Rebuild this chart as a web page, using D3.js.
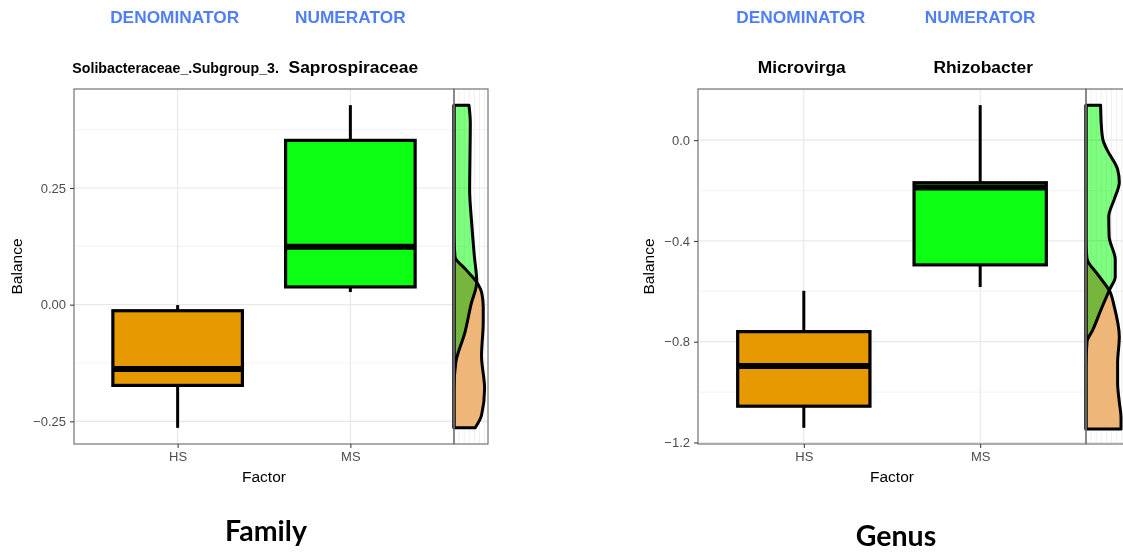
<!DOCTYPE html>
<html>
<head>
<meta charset="utf-8">
<script src="https://cdn.jsdelivr.net/npm/d3@7"></script>
<style>
  body { margin: 0; background: #fff; }
  svg { display: block; font-family: "Liberation Sans", Arial, sans-serif; }
</style>
</head>
<body>
<svg class="chart" width="1123" height="553"></svg>
<script>
const factors = ['HS', 'MS'];

// box stats per group: [min, q1, median, q3, max]
const familyHS = [-0.264, -0.173, -0.138, -0.013, -0.001];
const familyMS = [0.027, 0.038, 0.124, 0.352, 0.4275];
const genusHS = [-1.142, -1.056, -0.896, -0.760, -0.598];
const genusMS = [-0.583, -0.495, -0.188, -0.169, 0.139];

// side density profiles: [balance, density]
const familyDensityHS = [[0.4275, 0], [0.15, 0], [0.103, 0.03], [0.075, 0.35], [0.049, 0.66], [0.024, 0.82],
  [-0.005, 0.86], [-0.037, 0.86], [-0.11, 0.81], [-0.18, 0.9], [-0.237, 0.81], [-0.264, 0.62]];
const familyDensityMS = [[0.4275, 0.44], [0.39, 0.48], [0.317, 0.47], [0.246, 0.46], [0.175, 0.52], [0.103, 0.6],
  [0.049, 0.67], [0.0, 0.5], [-0.06, 0.32], [-0.125, 0.05], [-0.18, 0], [-0.264, 0]];
const genusDensityHS = [[0.139, 0], [-0.4, 0], [-0.47, 0.03], [-0.534, 0.35], [-0.6, 0.7], [-0.66, 0.83],
  [-0.78, 0.98], [-0.885, 0.93], [-0.964, 0.93], [-1.04, 0.98], [-1.1, 1.03], [-1.147, 1.03]];
const genusDensityMS = [[0.139, 0.43], [0.06, 0.45], [0.0, 0.5], [-0.036, 0.61], [-0.116, 0.93], [-0.167, 0.98],
  [-0.235, 0.83], [-0.303, 0.67], [-0.382, 0.68], [-0.474, 0.86], [-0.542, 0.86], [-0.594, 0.69],
  [-0.673, 0.44], [-0.753, 0.2], [-0.8, 0.03], [-0.9, 0], [-1.147, 0]];

const familyTicks = [-0.25, 0, 0.25];
const genusTicks = [-1.2, -0.8, -0.4, 0];

const headerLabels = ['DENOMINATOR', 'NUMERATOR'];
const familyTaxa = ['Solibacteraceae_.Subgroup_3.', 'Saprospiraceae'];
const genusTaxa = ['Microvirga', 'Rhizobacter'];
const panelTitles = ['Family', 'Genus'];

const boxColors = {HS: '#e69900', MS: '#0cff12'};
const densityFill = {HS: '#eeb679', MS: 'rgba(0,255,0,0.5)'};

const svg = d3.select('svg.chart');

function drawPanel(cfg) {
  const g = svg.append('g');

  // y range: data extent plus 5% like ggplot
  const ext = d3.extent(cfg.stats.flat());
  const pad = (ext[1] - ext[0]) * 0.05;
  const y = d3.scaleLinear()
    .domain([ext[0] - pad, ext[1] + pad])
    .range([cfg.bottom, cfg.top]);
  const x = d3.scalePoint()
    .domain(factors)
    .range([cfg.left, cfg.right])
    .padding(0.6);
  const boxW = x.step() * 0.75;
  const dx = d3.scaleLinear().domain([0, 1]).range([cfg.right, cfg.right + 34]);
  const stripEnd = cfg.right + cfg.stripW;

  const tickStep = cfg.ticks[1] - cfg.ticks[0];
  const minor = d3.range(cfg.ticks[0] - tickStep / 2, cfg.ticks[cfg.ticks.length - 1] + tickStep, tickStep)
    .filter(v => v >= y.domain()[0] && v <= y.domain()[1]);

  // main panel grid
  g.selectAll('line.minor')
    .data(minor)
    .join('line')
    .attr('x1', cfg.left).attr('x2', stripEnd)
    .attr('y1', d => y(d)).attr('y2', d => y(d))
    .attr('stroke', '#f0f0f0').attr('stroke-width', 0.8);
  g.selectAll('line.major')
    .data(cfg.ticks)
    .join('line')
    .attr('x1', cfg.left).attr('x2', stripEnd)
    .attr('y1', d => y(d)).attr('y2', d => y(d))
    .attr('stroke', '#e8e8e8').attr('stroke-width', 1.2);
  g.selectAll('line.vgrid')
    .data(factors)
    .join('line')
    .attr('x1', d => x(d)).attr('x2', d => x(d))
    .attr('y1', cfg.top).attr('y2', cfg.bottom)
    .attr('stroke', '#e8e8e8').attr('stroke-width', 1.2);

  // strip vertical grid
  g.append('g').selectAll('line')
    .data(d3.range(0.15, cfg.stripW / 34, 0.15))
    .join('line')
    .attr('x1', d => dx(d)).attr('x2', d => dx(d))
    .attr('y1', cfg.top).attr('y2', cfg.bottom)
    .attr('stroke', '#ececec').attr('stroke-width', 0.8);

  // boxplots
  const boxes = g.append('g').selectAll('g')
    .data(factors.map((f, i) => ({f, s: cfg.stats[i]})))
    .join('g');
  boxes.append('line')
    .attr('x1', d => x(d.f)).attr('x2', d => x(d.f))
    .attr('y1', d => y(d.s[0])).attr('y2', d => y(d.s[4]))
    .attr('stroke', '#000').attr('stroke-width', 3);
  boxes.append('rect')
    .attr('x', d => x(d.f) - boxW / 2)
    .attr('width', boxW)
    .attr('y', d => y(d.s[3]))
    .attr('height', d => y(d.s[1]) - y(d.s[3]))
    .attr('fill', d => boxColors[d.f])
    .attr('stroke', '#000').attr('stroke-width', 3.2);
  boxes.append('line')
    .attr('x1', d => x(d.f) - boxW / 2).attr('x2', d => x(d.f) + boxW / 2)
    .attr('y1', d => y(d.s[2])).attr('y2', d => y(d.s[2]))
    .attr('stroke', '#000').attr('stroke-width', 6);

  // side densities
  const area = d3.area()
    .curve(d3.curveMonotoneY)
    .y(d => y(d[0]))
    .x0(dx(0))
    .x1(d => dx(d[1]));
  g.append('path')
    .attr('d', area(cfg.densHS))
    .attr('fill', densityFill.HS)
    .attr('stroke', '#000').attr('stroke-width', 3).attr('stroke-linejoin', 'round');
  g.append('path')
    .attr('d', area(cfg.densMS))
    .attr('fill', densityFill.MS)
    .style('mix-blend-mode', 'multiply');
  g.append('path')
    .attr('d', area(cfg.densMS))
    .attr('fill', 'none')
    .attr('stroke', '#000').attr('stroke-width', 3).attr('stroke-linejoin', 'round');

  // borders
  g.append('rect')
    .attr('x', cfg.left).attr('y', cfg.top)
    .attr('width', cfg.right - cfg.left).attr('height', cfg.bottom - cfg.top)
    .attr('fill', 'none').attr('stroke', '#737373').attr('stroke-width', 1.2);
  g.append('rect')
    .attr('x', cfg.right).attr('y', cfg.top)
    .attr('width', cfg.stripW).attr('height', cfg.bottom - cfg.top)
    .attr('fill', 'none').attr('stroke', '#737373').attr('stroke-width', 1.2);

  // axes
  const yAxis = d3.axisLeft(y)
    .tickValues(cfg.ticks)
    .tickFormat(d3.format(cfg.fmt))
    .tickSize(4).tickPadding(4);
  g.append('g')
    .attr('transform', `translate(${cfg.left},0)`)
    .call(yAxis)
    .call(a => a.select('.domain').remove())
    .call(a => a.selectAll('line').attr('stroke', '#333'))
    .call(a => a.selectAll('text').attr('fill', '#4d4d4d')
      .style('font-size', '13px').style('font-family', '"Liberation Sans", Arial, sans-serif'));
  const xAxis = d3.axisBottom(x).tickSize(4).tickPadding(4);
  g.append('g')
    .attr('transform', `translate(0,${cfg.bottom})`)
    .call(xAxis)
    .call(a => a.select('.domain').remove())
    .call(a => a.selectAll('line').attr('stroke', '#333'))
    .call(a => a.selectAll('text').attr('fill', '#4d4d4d')
      .style('font-size', '13px').style('font-family', '"Liberation Sans", Arial, sans-serif'));

  g.append('text')
    .attr('x', (cfg.left + cfg.right) / 2).attr('y', 482)
    .attr('text-anchor', 'middle')
    .style('font-size', '15.5px')
    .text('Factor');
  g.append('text')
    .attr('transform', `translate(${cfg.left - cfg.yLabelOff},${(cfg.top + cfg.bottom) / 2}) rotate(-90)`)
    .attr('text-anchor', 'middle')
    .attr('dy', '0.36em')
    .style('font-size', '15.5px')
    .text('Balance');

  // headers above each group
  g.selectAll('text.header')
    .data(headerLabels)
    .join('text')
    .attr('x', (d, i) => x(factors[i]) - (i === 0 ? 3 : 0))
    .attr('y', 23)
    .attr('text-anchor', 'middle')
    .attr('fill', '#4f7ef6')
    .style('font-weight', 'bold')
    .style('font-size', '17.3px')
    .text(d => d);
  g.selectAll('text.taxon')
    .data(cfg.taxa)
    .join('text')
    .attr('x', (d, i) => x(factors[i]) - (i === 0 ? 2 : 0) + (i === 1 ? 3 : 0))
    .attr('y', 73)
    .attr('text-anchor', 'middle')
    .style('font-weight', 'bold')
    .style('font-size', d => d.length > 20 ? '14.2px' : '17.4px')
    .text(d => d);

  g.append('text')
    .attr('x', (cfg.left + cfg.right) / 2 + cfg.titleOff)
    .attr('y', cfg.titleY)
    .attr('text-anchor', 'middle')
    .style('font-family', 'Lato, "Open Sans", sans-serif')
    .style('font-weight', 'bold')
    .style('font-size', '28.5px')
    .text(cfg.title);
}

drawPanel({
  stats: [familyHS, familyMS], densHS: familyDensityHS, densMS: familyDensityMS,
  ticks: familyTicks, fmt: '.2f', taxa: familyTaxa, title: panelTitles[0],
  left: 74, right: 454, top: 89, bottom: 444, stripW: 34, yLabelOff: 58, titleOff: 2, titleY: 541
});
drawPanel({
  stats: [genusHS, genusMS], densHS: genusDensityHS, densMS: genusDensityMS,
  ticks: genusTicks, fmt: '.1f', taxa: genusTaxa, title: panelTitles[1],
  left: 698, right: 1086, top: 89, bottom: 444, stripW: 42, yLabelOff: 50, titleOff: 4, titleY: 546
});
</script>
</body>
</html>
